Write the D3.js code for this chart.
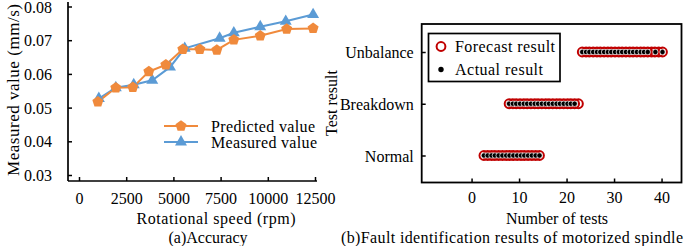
<!DOCTYPE html>
<html><head><meta charset="utf-8">
<script src="https://cdn.jsdelivr.net/npm/d3@7"></script>
<style>
html,body{margin:0;padding:0;background:#fff;}
svg text{font-family:"Liberation Serif","Times New Roman",Times,"DejaVu Serif",serif !important;fill:#000;}
</style></head>
<body>
<svg id="chart" width="685" height="246"></svg>
<script>
// ---------- Data: (a) Accuracy ----------
const predictedSpeed = [1000, 1950, 2850, 3700, 4600, 5500, 6400, 7300, 8200, 9600, 11000, 12400];
const predictedValue = [0.0517, 0.0559, 0.0560, 0.0607, 0.0627, 0.0673, 0.0673, 0.0671, 0.0701, 0.0713, 0.0733, 0.0735];
const measuredSpeed = [1050, 1950, 2900, 3880, 4820, 5600, 7450, 8200, 9600, 10950, 12400];
const measuredValue = [0.0527, 0.0559, 0.0568, 0.0581, 0.0620, 0.0676, 0.0706, 0.0722, 0.0740, 0.0756, 0.0776];
const speedTicks = [0, 2500, 5000, 7500, 10000, 12500];
const valueTicks = [0.03, 0.04, 0.05, 0.06, 0.07, 0.08];

// ---------- Data: (b) Fault identification ----------
const faultCategories = ["Normal", "Breakdown", "Unbalance"];
const normalForecast = [2.6, 3.4, 4.2, 4.9, 5.7, 6.5, 7.3, 8.0, 8.8, 9.6, 10.4, 11.1, 11.9, 12.7, 13.5, 14.3];
const normalActual = [2.6, 3.4, 4.2, 4.9, 5.7, 6.5, 7.3, 8.0, 8.8, 9.6, 10.4, 11.1, 11.9, 12.7, 13.5, 14.3];
const breakdownForecast = [7.9, 8.7, 9.4, 10.2, 11.0, 11.7, 12.5, 13.3, 14.0, 14.8, 15.6, 16.3, 17.1, 17.9, 18.6, 19.4, 20.2, 20.9, 21.7, 22.5];
const breakdownActual = [7.9, 8.7, 9.4, 10.2, 11.0, 11.7, 12.5, 13.3, 14.0, 14.8, 15.6, 16.3, 17.1, 17.9, 18.6, 19.4, 20.2, 20.9, 21.7];
const unbalanceForecast = [23.3, 24.1, 24.8, 25.6, 26.4, 27.1, 27.9, 28.7, 29.4, 30.2, 31.0, 31.7, 32.5, 33.3, 34.0, 34.8, 35.6, 36.3, 37.1, 37.9, 38.6, 39.4, 40.2];
const unbalanceActual = [23.3, 24.1, 24.8, 25.6, 26.4, 27.1, 27.9, 28.7, 29.4, 30.2, 31.0, 31.7, 32.5, 33.3, 34.0, 34.8, 35.6, 36.3, 37.1, 38.7, 40.2];
const testTicks = [0, 10, 20, 30, 40];

const svg = d3.select("#chart");
const FS = 16;
const ORANGE = "#F08A3C", BLUE = "#5B9BD5", RED = "#C00000";

// ===== Left chart =====
const xA = d3.scaleLinear().domain([0, 12500]).range([79, 315]);
const yA = d3.scaleLinear().domain([0.03, 0.08]).range([175, 6.5]);
const axisYPos = 181, axisXPos = 68;
const gA = svg.append("g");

gA.append("line").attr("x1", axisXPos).attr("x2", axisXPos).attr("y1", 2).attr("y2", axisYPos)
  .attr("stroke", "#000").attr("stroke-width", 1.7);
gA.append("line").attr("x1", axisXPos).attr("x2", 317).attr("y1", axisYPos).attr("y2", axisYPos)
  .attr("stroke", "#000").attr("stroke-width", 1.7);

const yAxisA = gA.append("g").attr("transform", `translate(${axisXPos},0)`)
  .call(d3.axisRight(yA).tickValues(valueTicks).tickSize(4).tickFormat(d3.format(".2f")));
yAxisA.select(".domain").remove();
yAxisA.selectAll(".tick line").attr("stroke", "#000").attr("stroke-width", 1.5);
yAxisA.selectAll(".tick text").attr("x", -16).attr("dy", "0.35em").attr("text-anchor", "end")
  .attr("font-size", FS);

const xAxisA = gA.append("g").attr("transform", `translate(0,${axisYPos})`)
  .call(d3.axisTop(xA).tickValues(speedTicks).tickSize(4).tickFormat(d3.format("d")));
xAxisA.select(".domain").remove();
xAxisA.selectAll(".tick line").attr("stroke", "#000").attr("stroke-width", 1.5);
xAxisA.selectAll(".tick text").attr("y", 17).attr("dy", "0.35em").attr("font-size", FS);

const lineGen = d3.line().x(d => xA(d[0])).y(d => yA(d[1]));
const predPts = predictedSpeed.map((s, i) => [s, predictedValue[i]]);
const measPts = measuredSpeed.map((s, i) => [s, measuredValue[i]]);

gA.append("path").datum(measPts).attr("d", lineGen).attr("fill", "none")
  .attr("stroke", BLUE).attr("stroke-width", 2);
gA.append("path").datum(predPts).attr("d", lineGen).attr("fill", "none")
  .attr("stroke", ORANGE).attr("stroke-width", 2);

function pentagon(r) {
  const pts = d3.range(5).map(k => {
    const a = -Math.PI / 2 + k * 2 * Math.PI / 5;
    return [r * Math.cos(a), r * Math.sin(a)];
  });
  return "M" + pts.map(p => p.join(",")).join("L") + "Z";
}
const triPath = d3.symbol().type(d3.symbolTriangle).size(62)();

gA.selectAll(".tri").data(measPts).join("path").attr("class", "tri")
  .attr("transform", d => `translate(${xA(d[0])},${yA(d[1])})`)
  .attr("d", triPath).attr("fill", BLUE);
gA.selectAll(".pent").data(predPts).join("path").attr("class", "pent")
  .attr("transform", d => `translate(${xA(d[0])},${yA(d[1])})`)
  .attr("d", pentagon(5.8)).attr("fill", ORANGE);

// legend A
const legA = gA.append("g");
legA.append("line").attr("x1", 164).attr("x2", 198).attr("y1", 126).attr("y2", 126).attr("stroke", ORANGE).attr("stroke-width", 2);
legA.append("path").attr("transform", "translate(181,126)").attr("d", pentagon(5.8)).attr("fill", ORANGE);
legA.append("text").attr("x", 211).attr("y", 126).attr("dy", "0.35em").attr("font-size", FS)
  .attr("textLength", 104).attr("lengthAdjust", "spacing").text("Predicted value");
legA.append("line").attr("x1", 164).attr("x2", 198).attr("y1", 142).attr("y2", 142).attr("stroke", BLUE).attr("stroke-width", 2);
legA.append("path").attr("transform", "translate(181,142)").attr("d", triPath).attr("fill", BLUE);
legA.append("text").attr("x", 211).attr("y", 142).attr("dy", "0.35em").attr("font-size", FS)
  .attr("textLength", 106).attr("lengthAdjust", "spacing").text("Measured value");

// titles A
gA.append("text").attr("transform", "translate(13,90) rotate(-90)").attr("text-anchor", "middle")
  .attr("dy", "0.35em").attr("font-size", 17).attr("textLength", 172).attr("lengthAdjust", "spacing")
  .text("Measured value (mm/s)");
gA.append("text").attr("x", 216).attr("y", 218).attr("text-anchor", "middle").attr("dy", "0.35em")
  .attr("font-size", FS).attr("textLength", 159).attr("lengthAdjust", "spacing").text("Rotational speed (rpm)");
gA.append("text").attr("x", 208).attr("y", 237).attr("text-anchor", "middle").attr("dy", "0.35em")
  .attr("font-size", FS).text("(a)Accuracy");

// ===== Right chart =====
const xB = d3.scaleLinear().domain([-10.5, 44.2]).range([421.7, 681.5]);
const yB = d3.scalePoint().domain(faultCategories).range([155.5, 52]);
const frame = {x0: 421.7, x1: 681.5, y0: 24, y1: 182.5};
const gB = svg.append("g");

gB.append("rect").attr("x", frame.x0).attr("y", frame.y0).attr("width", frame.x1 - frame.x0)
  .attr("height", frame.y1 - frame.y0).attr("fill", "none").attr("stroke", "#000").attr("stroke-width", 1.8);

const xAxisB = gB.append("g").attr("transform", `translate(0,${frame.y1})`)
  .call(d3.axisTop(xB).tickValues(testTicks).tickSize(4));
xAxisB.select(".domain").remove();
xAxisB.selectAll(".tick line").attr("stroke", "#000").attr("stroke-width", 1.5);
xAxisB.selectAll(".tick text").attr("y", 15).attr("dy", "0.35em").attr("font-size", FS);

const yAxisB = gB.append("g").attr("transform", `translate(${frame.x0},0)`)
  .call(d3.axisRight(yB).tickSize(4));
yAxisB.select(".domain").remove();
yAxisB.selectAll(".tick line").attr("stroke", "#000").attr("stroke-width", 1.5);
yAxisB.selectAll(".tick text").attr("x", -8).attr("dy", "0.35em").attr("text-anchor", "end").attr("font-size", FS);

const forecastRows = [["Normal", normalForecast], ["Breakdown", breakdownForecast], ["Unbalance", unbalanceForecast]];
const actualRows = [["Normal", normalActual], ["Breakdown", breakdownActual], ["Unbalance", unbalanceActual]];

forecastRows.forEach(([cat, vals]) => {
  gB.append("g").selectAll("circle").data(vals).join("circle")
    .attr("cx", d => xB(d)).attr("cy", yB(cat)).attr("r", 4.4)
    .attr("fill", "none").attr("stroke", RED).attr("stroke-width", 2);
});
actualRows.forEach(([cat, vals]) => {
  gB.append("g").selectAll("circle").data(vals).join("circle")
    .attr("cx", d => xB(d)).attr("cy", yB(cat)).attr("r", 2.7)
    .attr("fill", "#000").attr("stroke", "#fff").attr("stroke-width", 0.7);
});

// legend B
const legB = gB.append("g");
legB.append("rect").attr("x", 428.5).attr("y", 33.5).attr("width", 131.5).attr("height", 48)
  .attr("fill", "#fff").attr("stroke", "#000").attr("stroke-width", 1.7);
legB.append("circle").attr("cx", 441).attr("cy", 46.5).attr("r", 4.4).attr("fill", "none")
  .attr("stroke", RED).attr("stroke-width", 2);
legB.append("text").attr("x", 455).attr("y", 46.5).attr("dy", "0.35em").attr("font-size", FS)
  .attr("textLength", 100).attr("lengthAdjust", "spacing").text("Forecast result");
legB.append("circle").attr("cx", 441).attr("cy", 69.5).attr("r", 2.7).attr("fill", "#000");
legB.append("text").attr("x", 455).attr("y", 69.5).attr("dy", "0.35em").attr("font-size", FS)
  .attr("textLength", 88).attr("lengthAdjust", "spacing").text("Actual result");

// titles B
gB.append("text").attr("transform", "translate(331,103) rotate(-90)").attr("text-anchor", "middle")
  .attr("dy", "0.35em").attr("font-size", FS).text("Test result");
gB.append("text").attr("x", 557).attr("y", 218).attr("text-anchor", "middle").attr("dy", "0.35em")
  .attr("font-size", FS).text("Number of tests");
gB.append("text").attr("x", 341).attr("y", 237).attr("dy", "0.35em")
  .attr("font-size", FS).attr("textLength", 342).attr("lengthAdjust", "spacing")
  .text("(b)Fault identification results of motorized spindle");
</script>
</body></html>
